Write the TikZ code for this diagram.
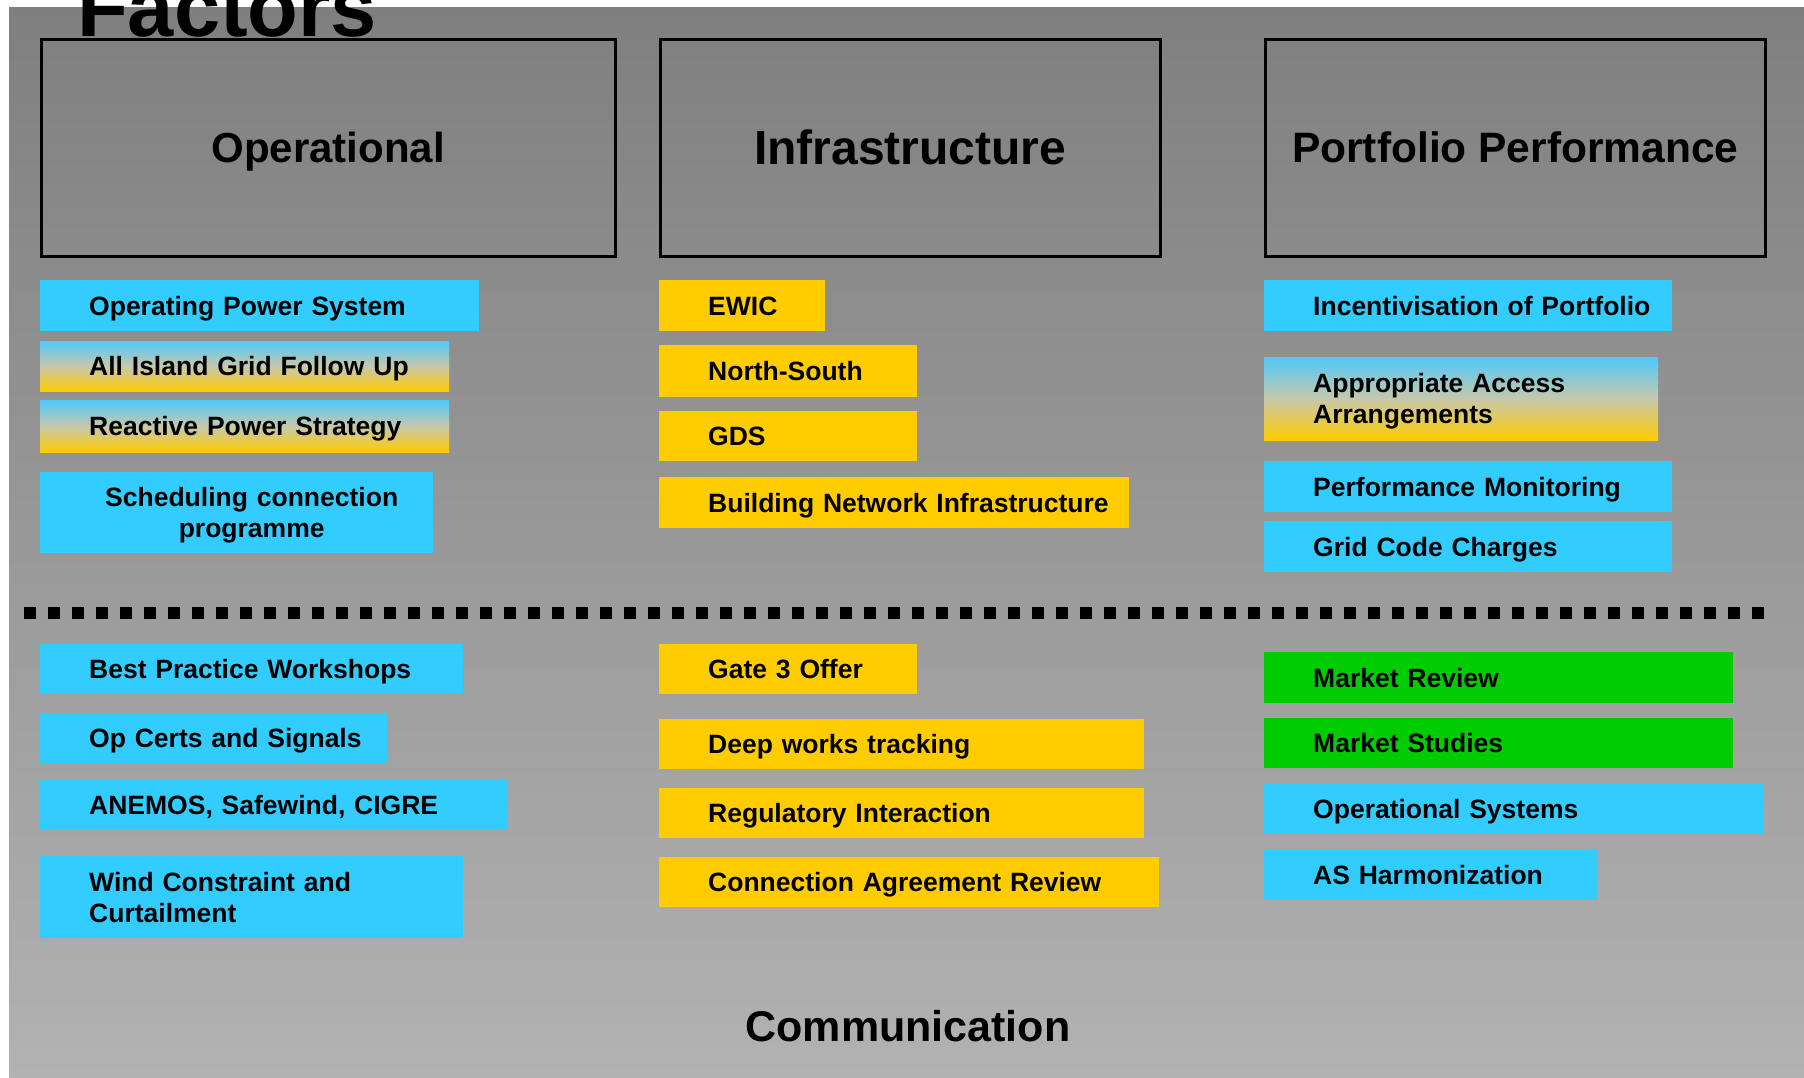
\documentclass[tikz,border=0pt]{standalone}
\usepackage{fontspec}
\setmainfont{Liberation Sans}
\definecolor{bgtop}{RGB}{127,127,127}
\definecolor{bgbottom}{RGB}{178,178,178}
\definecolor{skyblue}{RGB}{51,204,255}
\definecolor{goldfill}{RGB}{255,204,0}
\definecolor{leafgreen}{RGB}{0,204,0}
\definecolor{mixtop}{RGB}{80,200,250}
\definecolor{mixmid}{RGB}{200,200,172}
\newcommand\itemfont{\fontsize{26.5}{31}\selectfont\bfseries}
\tikzset{
  head/.style={draw, line width=2.5pt, anchor=north west, minimum width=500, minimum height=217, inner sep=0pt, text depth=0pt},
  item/.style={anchor=north west, inner sep=0pt, align=left, font=\itemfont, text height=19pt, text depth=0pt, execute at begin node={\leftskip=49pt}},
  skybox/.style={item, fill=skyblue},
  goldbox/.style={item, fill=goldfill},
  leafbox/.style={item, fill=leafgreen},
  mixbox/.style={item, top color=mixtop, bottom color=goldfill, middle color=mixmid},
}
\begin{document}
\begin{tikzpicture}[x=1pt,y=-1pt]
        \useasboundingbox (0,0) rectangle (1804,1077);
        \clip (0,0) rectangle (1804,1077);
        \shade[top color=bgtop, bottom color=bgbottom] (9,7) rectangle (1804,1077);

        \node[anchor=base west, inner sep=0pt, font=\fontsize{83}{90}\selectfont\bfseries] at (77,36) (factors) {Factors};

        \node[head, minimum width=574, text height=30pt, font=\fontsize{42}{48}\selectfont\bfseries] at (40,38) (oper) {Operational};
        \node[head, text height=34pt, font=\fontsize{48}{54}\selectfont\bfseries] at (659,38) (infra) {Infrastructure};
        \node[head, text height=30pt, font=\fontsize{42.5}{48}\selectfont\bfseries] at (1264,38) (portf) {Portfolio Performance};

        \node[skybox, text width=439, minimum height=51] at (40,280) (ops) {Operating Power System};
        \node[mixbox, text width=409, minimum height=50] at (40,341) (aig) {All Island Grid Follow Up};
        \node[mixbox, text width=409, minimum height=52] at (40,400) (rps) {Reactive Power Strategy};
        \node[skybox, text width=393, minimum height=81, text depth=31pt, execute at begin node={\leftskip=30pt plus 1fill\rightskip=0pt plus 1fill\parfillskip=0pt}] at (40,472) (scp) {Scheduling connection\\programme};

        \node[goldbox, text width=166, minimum height=51] at (659,280) (ewic) {EWIC};
        \node[goldbox, text width=258, minimum height=52] at (659,345) (ns) {North-South};
        \node[goldbox, text width=258, minimum height=50] at (659,411) (gds) {GDS};
        \node[goldbox, text width=470, minimum height=51] at (659,477) (bni) {Building Network Infrastructure};

        \node[skybox, text width=408, minimum height=51] at (1264,280) (inc) {Incentivisation of Portfolio};
        \node[mixbox, text width=394, minimum height=83, text depth=31pt] at (1264,357) (aaa) {Appropriate Access\\Arrangements};
        \node[skybox, text width=408, minimum height=51] at (1264,461) (pm) {Performance Monitoring};
        \node[skybox, text width=408, minimum height=51] at (1264,521) (gcc) {Grid Code Charges};

        \draw[line width=12pt, dash pattern=on 12pt off 12pt] (24,613) -- (1764,613);

        \node[skybox, text width=423, minimum height=50] at (40,644) (bpw) {Best Practice Workshops};
        \node[skybox, text width=347, minimum height=50] at (40,713) (ocs) {Op Certs and Signals};
        \node[skybox, text width=468, minimum height=50] at (40,780) (ane) {ANEMOS, Safewind, CIGRE};
        \node[skybox, text width=423, minimum height=82, text depth=31pt] at (40,856) (wcc) {Wind Constraint and\\Curtailment};

        \node[goldbox, text width=258, minimum height=50] at (659,644) (gate) {Gate 3 Offer};
        \node[goldbox, text width=485, minimum height=50] at (659,719) (dwt) {Deep works tracking};
        \node[goldbox, text width=485, minimum height=50] at (659,788) (ri) {Regulatory Interaction};
        \node[goldbox, text width=500, minimum height=50] at (659,857) (car) {Connection Agreement Review};

        \node[leafbox, text width=469, minimum height=51] at (1264,652) (mr) {Market Review};
        \node[leafbox, text width=469, minimum height=50] at (1264,718) (ms) {Market Studies};
        \node[skybox, text width=500, minimum height=50] at (1264,784) (os) {Operational Systems};
        \node[skybox, text width=333, minimum height=51] at (1264,849) (ash) {AS Harmonization};

        \node[inner sep=0pt, text height=31pt, text depth=0pt, font=\fontsize{43}{48}\selectfont\bfseries] at (908,1026) (comm) {Communication};
    \end{tikzpicture}
\end{document}
